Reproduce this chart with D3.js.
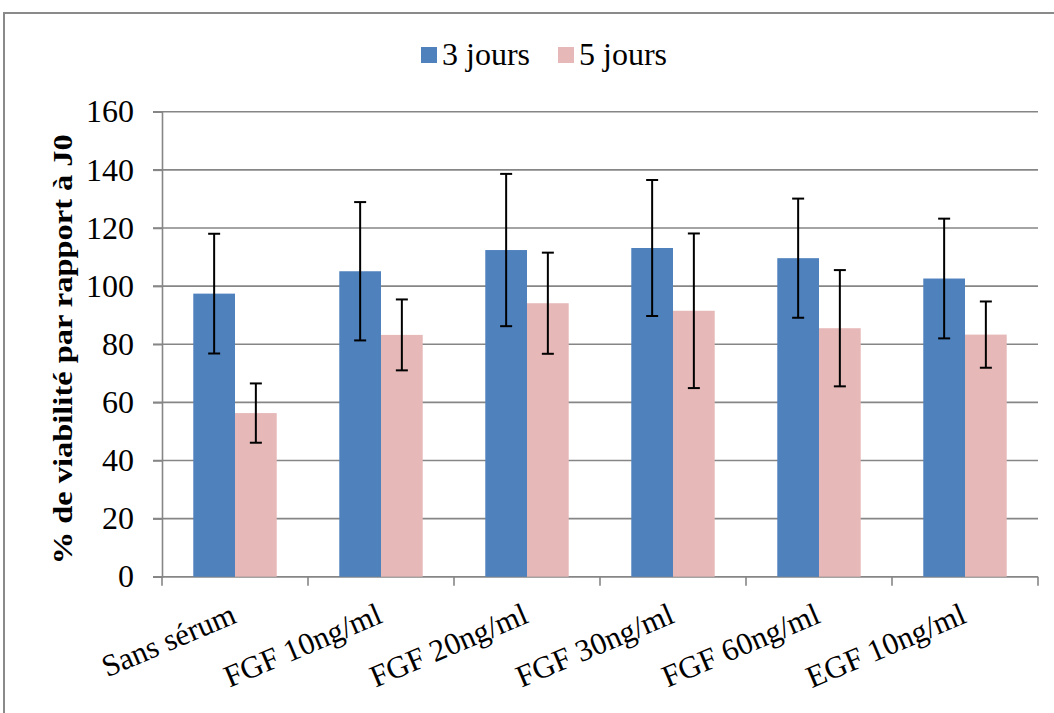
<!DOCTYPE html>
<html>
<head>
<meta charset="utf-8">
<script src="https://cdn.jsdelivr.net/npm/d3@7"></script>
<style>
  html, body { margin: 0; padding: 0; background: #fff; }
  svg { display: block; }
</style>
</head>
<body>
<svg id="chart" width="1054" height="713"></svg>
<script>
const categories = ["Sans sérum", "FGF 10ng/ml", "FGF 20ng/ml", "FGF 30ng/ml", "FGF 60ng/ml", "EGF 10ng/ml"];
const seriesNames = ["3 jours", "5 jours"];
const values3j = [97.4, 105.1, 112.4, 113.1, 109.6, 102.6];
const errors3j = [20.6, 23.8, 26.2, 23.4, 20.5, 20.6];
const values5j = [56.3, 83.2, 94.1, 91.5, 85.5, 83.3];
const errors5j = [10.2, 12.2, 17.4, 26.6, 20.0, 11.4];
const yTicks = [0, 20, 40, 60, 80, 100, 120, 140, 160];
const yTitle = "% de viabilité par rapport à J0";

const colors = ["#4F81BD", "#E6B9B8"];
const gridColor = "#868686";
const FONT = "'Liberation Serif', Tinos, 'Times New Roman', Times, 'DejaVu Serif', 'Noto Serif', serif";

const svg = d3.select("#chart");
const pLeft = 162, pRight = 1038, pTop = 111.7, pBottom = 576.7;

// outer chart border
svg.append("rect").attr("x", 4).attr("y", 13).attr("width", 1200).attr("height", 900)
  .attr("fill", "none").attr("stroke", "#8a8a8a").attr("stroke-width", 2);

const x = d3.scaleBand().domain(categories).range([pLeft, pRight]).paddingInner(0).paddingOuter(0);
const xs = d3.scaleBand().domain(seriesNames).range([0, x.bandwidth()]).paddingInner(0).paddingOuter(0.75);
const y = d3.scaleLinear().domain([0, 160]).range([pBottom, pTop]);

// gridlines
svg.append("g").selectAll("line").data(yTicks).join("line")
  .attr("x1", pLeft - 9).attr("x2", pRight)
  .attr("y1", d => y(d)).attr("y2", d => y(d))
  .attr("stroke", gridColor).attr("stroke-width", 1.6);

// y axis
const yAxis = svg.append("g").attr("transform", `translate(${pLeft},0)`)
  .call(d3.axisLeft(y).tickValues(yTicks).tickSize(9).tickPadding(19));
yAxis.attr("font-family", FONT).attr("font-size", 32);
yAxis.select(".domain").attr("stroke", gridColor).attr("stroke-width", 1.6);
yAxis.selectAll(".tick line").attr("stroke", gridColor).attr("stroke-width", 1.6);
yAxis.selectAll(".tick text").attr("font-size", 32).attr("font-family", FONT).attr("fill", "#000");

// x axis line and boundary ticks
const bounds = categories.map(c => x(c)).concat([x(categories[categories.length - 1]) + x.bandwidth()]);
svg.append("line").attr("x1", pLeft).attr("x2", pRight).attr("y1", y(0)).attr("y2", y(0))
  .attr("stroke", gridColor).attr("stroke-width", 1.6);
svg.append("g").selectAll("line").data(bounds).join("line")
  .attr("x1", d => d).attr("x2", d => d).attr("y1", y(0)).attr("y2", y(0) + 9)
  .attr("stroke", gridColor).attr("stroke-width", 1.6);

// bars
const data = categories.map((c, i) => ({
  cat: c,
  items: [
    { s: seriesNames[0], v: values3j[i], e: errors3j[i], c: colors[0] },
    { s: seriesNames[1], v: values5j[i], e: errors5j[i], c: colors[1] }
  ]
}));

const groups = svg.append("g").selectAll("g").data(data).join("g")
  .attr("transform", d => `translate(${x(d.cat)},0)`);

groups.selectAll("rect").data(d => d.items).join("rect")
  .attr("x", d => xs(d.s)).attr("width", xs.bandwidth())
  .attr("y", d => y(d.v)).attr("height", d => y(0) - y(d.v))
  .attr("fill", d => d.c);

// error bars
const eb = groups.selectAll("g.err").data(d => d.items).join("g").attr("class", "err");
eb.append("line")
  .attr("x1", d => xs(d.s) + xs.bandwidth() / 2).attr("x2", d => xs(d.s) + xs.bandwidth() / 2)
  .attr("y1", d => y(d.v + d.e)).attr("y2", d => y(d.v - d.e))
  .attr("stroke", "#000").attr("stroke-width", 2);
eb.selectAll("line.cap").data(d => [d.v + d.e, d.v - d.e].map(v => ({ v, cx: xs(d.s) + xs.bandwidth() / 2 })))
  .join("line").attr("class", "cap")
  .attr("x1", d => d.cx - 6).attr("x2", d => d.cx + 6)
  .attr("y1", d => y(d.v)).attr("y2", d => y(d.v))
  .attr("stroke", "#000").attr("stroke-width", 2);

// x labels
svg.append("g").selectAll("text").data(categories).join("text")
  .attr("transform", d => `translate(${x(d) + x.bandwidth() / 2 + 3},622) rotate(-23)`)
  .attr("text-anchor", "end").attr("font-size", 31).attr("font-family", FONT)
  .text(d => d);

// y title
svg.append("text")
  .attr("transform", `translate(72,${(pTop + pBottom) / 2 + 5}) rotate(-90)`)
  .attr("text-anchor", "middle").attr("font-size", 28).attr("font-weight", "bold")
  .attr("font-family", FONT)
  .attr("textLength", 430).attr("lengthAdjust", "spacingAndGlyphs")
  .text(yTitle);

// legend
const legend = svg.append("g");
const legX = [421, 558];
seriesNames.forEach((s, i) => {
  legend.append("rect").attr("x", legX[i]).attr("y", 47).attr("width", 16).attr("height", 16).attr("fill", colors[i]);
  legend.append("text").attr("x", legX[i] + 21).attr("y", 65).attr("font-size", 32)
    .attr("font-family", FONT).text(s);
});
</script>
</body>
</html>
